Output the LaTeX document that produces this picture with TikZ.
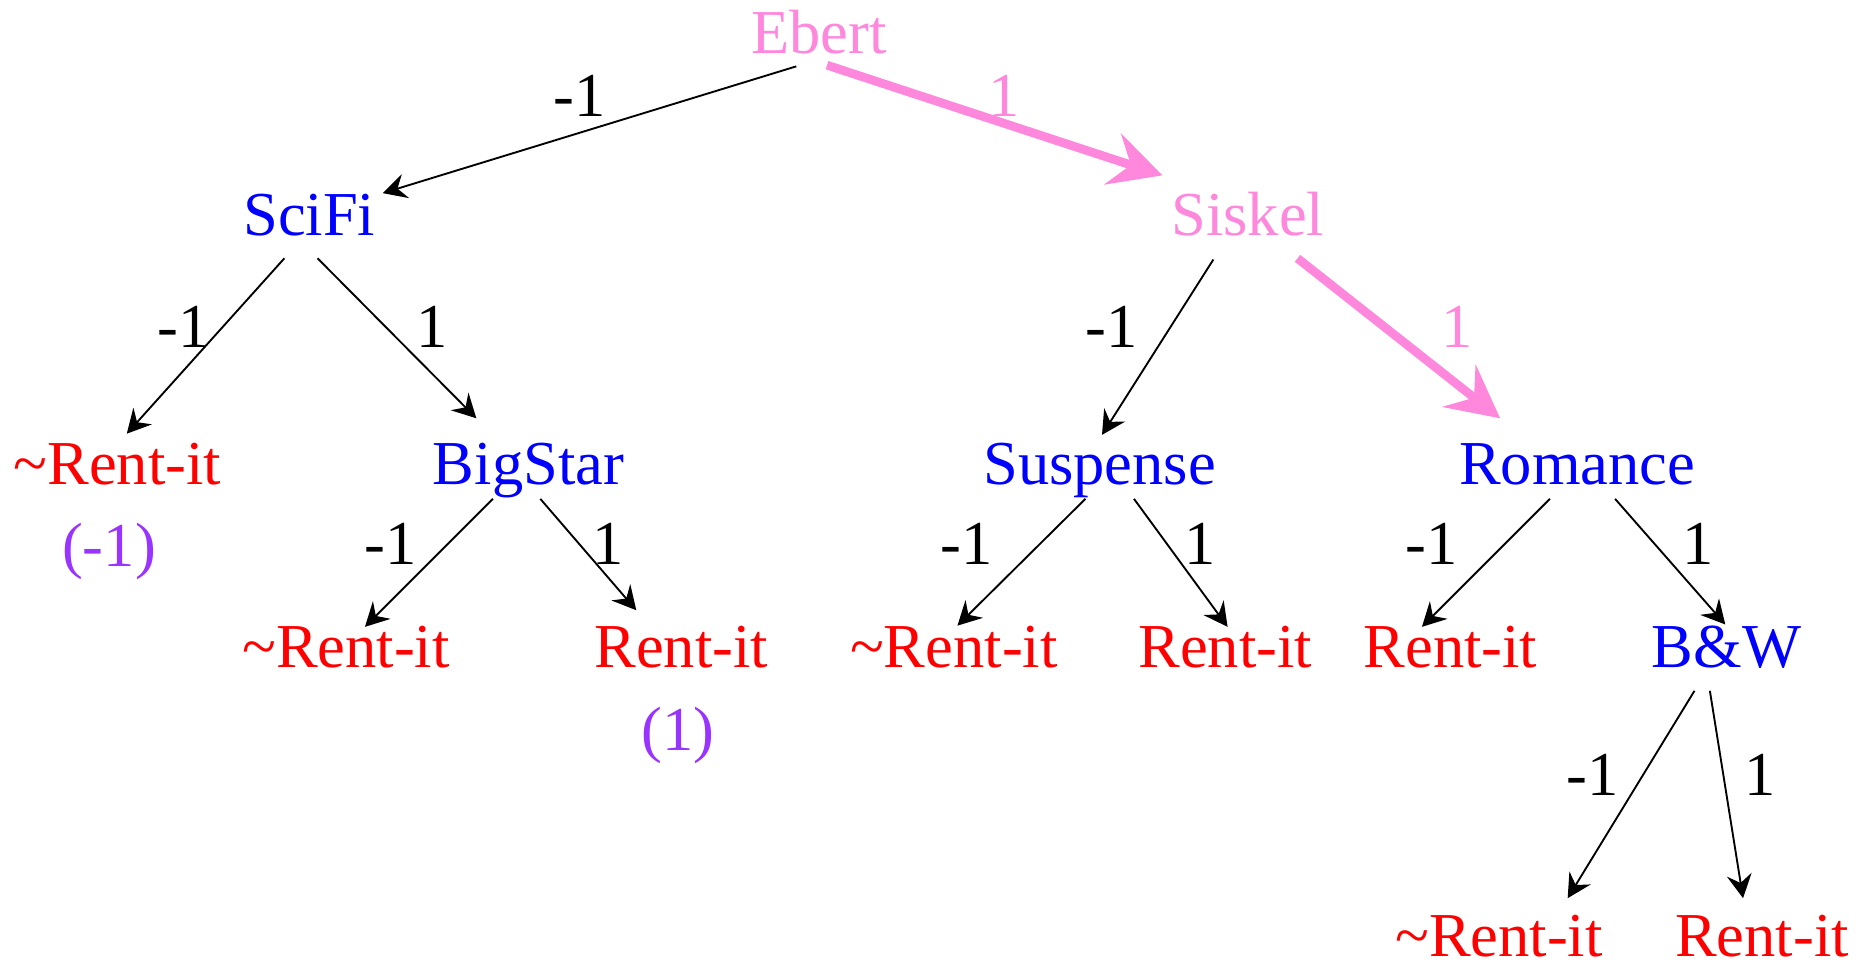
\documentclass[tikz,border=0pt]{standalone}
\usepackage{fontspec}
\setmainfont{Liberation Serif}
\usepackage{xcolor}
\usetikzlibrary{arrows.meta}
\definecolor{treepink}{RGB}{255,136,221}
\definecolor{votepurple}{RGB}{153,51,255}

\begin{document}
\begin{tikzpicture}[x=0.01cm,y=-0.01cm,
  every node/.style={font=\fontsize{15}{18}\selectfont,inner sep=0pt,text height=9.75pt,text depth=0pt},
  attr/.style={text=blue},
  pathattr/.style={text=treepink},
  leaf/.style={text=red},
  vote/.style={text=votepurple},
  branch/.style={draw=black,line width=0.45pt,-{Stealth[length=2mm,width=2.1mm,inset=0.7mm]}},
  chosen/.style={draw=treepink,line width=2.1pt,-{Stealth[length=4.4mm,width=4.5mm,inset=1.6mm]}}]
\useasboundingbox (0,0) rectangle (1568,812);
\node[pathattr] (ebert) at (691,28) {Ebert};
\node[attr] (scifi) at (261,182) {SciFi};
\node[pathattr] (siskel) at (1053,182) {Siskel};
\node[leaf] (norentA) at (99,392) {\textasciitilde Rent-it};
\node[vote] (voteA) at (92,461) {(-1)};
\node[attr] (bigstar) at (446,392) {BigStar};
\node[attr] (suspense) at (928,392) {Suspense};
\node[attr] (romance) at (1331,392) {Romance};
\node[leaf] (norentB) at (292,546) {\textasciitilde Rent-it};
\node[leaf] (rentB) at (575,546) {Rent-it};
\node[vote] (voteB) at (572,616) {(1)};
\node[leaf] (norentC) at (805,546) {\textasciitilde Rent-it};
\node[leaf] (rentC) at (1034,546) {Rent-it};
\node[leaf] (rentD) at (1224,546) {Rent-it};
\node[attr] (bw) at (1457,546) {B\&W};
\node[leaf] (norentE) at (1265,790) {\textasciitilde Rent-it};
\node[leaf] (rentE) at (1487,790) {Rent-it};
\draw[branch] ([shift={(-19,28)}]ebert.center) -- ([shift={(62,-19)}]scifi.center);
\draw[chosen] ([shift={(7,27)}]ebert.center) -- ([shift={(-72,-34)}]siskel.center);
\draw[branch] ([shift={(-21,36)}]scifi.center) -- ([shift={(8,-26)}]norentA.center);
\draw[branch] ([shift={(7,36)}]scifi.center) -- ([shift={(-44,-39)}]bigstar.center);
\draw[branch] ([shift={(-29,37)}]siskel.center) -- ([shift={(2,-25)}]suspense.center);
\draw[chosen] ([shift={(42,36)}]siskel.center) -- ([shift={(-65,-39)}]romance.center);
\draw[branch] ([shift={(-30,29)}]bigstar.center) -- ([shift={(16,-17)}]norentB.center);
\draw[branch] ([shift={(10,29)}]bigstar.center) -- ([shift={(-38,-31)}]rentB.center);
\draw[branch] ([shift={(-12,29)}]suspense.center) -- ([shift={(3,-18)}]norentC.center);
\draw[branch] ([shift={(29,29)}]suspense.center) -- ([shift={(2,-17)}]rentC.center);
\draw[branch] ([shift={(-23,29)}]romance.center) -- ([shift={(-24,-17)}]rentD.center);
\draw[branch] ([shift={(32,29)}]romance.center) -- ([shift={(-1,-19)}]bw.center);
\draw[branch] ([shift={(-27,37)}]bw.center) -- ([shift={(58,-32)}]norentE.center);
\draw[branch] ([shift={(-14,37)}]bw.center) -- ([shift={(-16,-32)}]rentE.center);
\node (wEbSci) at (489,81) {-1};
\node[pathattr] (wEbSis) at (847,81) {1};
\node (wSciL) at (155,276) {-1};
\node (wSciR) at (365,276) {1};
\node (wSisL) at (938,276) {-1};
\node[pathattr] (wSisR) at (1230,276) {1};
\node (wBigL) at (330,459) {-1};
\node (wBigR) at (513,459) {1};
\node (wSusL) at (816,459) {-1};
\node (wSusR) at (1013,459) {1};
\node (wRomL) at (1208,459) {-1};
\node (wRomR) at (1433,459) {1};
\node (wBwL) at (1344,654) {-1};
\node (wBwR) at (1485,654) {1};
\end{tikzpicture}
\end{document}
